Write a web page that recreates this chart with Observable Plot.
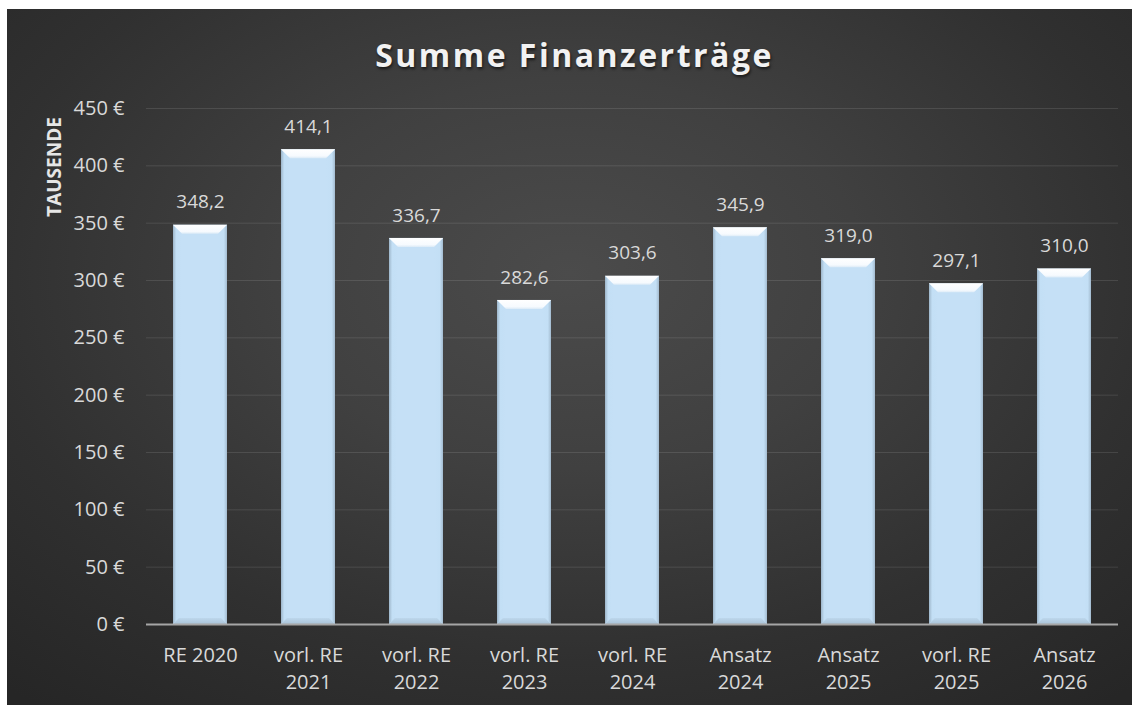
<!DOCTYPE html>
<html><head><meta charset="utf-8">
<script src="https://cdn.jsdelivr.net/npm/d3@7"></script>
<script src="https://cdn.jsdelivr.net/npm/@observablehq/plot@0.6"></script>
<style>
html,body{margin:0;padding:0;background:#fff;}
#panel{position:absolute;left:7px;top:9px;width:1125px;height:696px;overflow:hidden;
  background:radial-gradient(ellipse 75% 80% at 50% 38%, #4b4b4b 0%, #404040 35%, #303030 70%, #262626 100%);
  font-family:"Open Sans",sans-serif;}
#title{height:50px;padding-top:30px;line-height:32px;font-size:32px;font-weight:bold;color:#f2f2f2;
  text-align:center;letter-spacing:2.5px;padding-left:10px;text-shadow:1px 2px 3px rgba(0,0,0,0.6);}
</style></head><body>
<div id="panel"><div id="title">Summe Finanzerträge</div><div id="chart"></div></div>
<script>
const categories = ["RE 2020", "vorl. RE\n2021", "vorl. RE\n2022", "vorl. RE\n2023", "vorl. RE\n2024", "Ansatz\n2024", "Ansatz\n2025", "vorl. RE\n2025", "Ansatz\n2026"];
const values = [348.2, 414.1, 336.7, 282.6, 303.6, 345.9, 319.0, 297.1, 310.0];
const yTicks = [0, 50, 100, 150, 200, 250, 300, 350, 400, 450];
const yLabel = "TAUSENDE";

const data = categories.map((c, i) => ({cat: c, value: values[i]}));
const ns = "http://www.w3.org/2000/svg";

function defs() {
  const svg = document.createElementNS(ns, "defs");
  svg.innerHTML = `
    <linearGradient id="topG" x1="0" y1="0" x2="0" y2="1">
      <stop offset="0" stop-color="#ffffff"/><stop offset="0.75" stop-color="#f6fafe"/><stop offset="1" stop-color="#dcebf7"/>
    </linearGradient>
    <linearGradient id="leftG" x1="0" y1="0" x2="1" y2="0">
      <stop offset="0" stop-color="#9db5c9"/><stop offset="0.35" stop-color="#c3dff5"/><stop offset="1" stop-color="#c5e0f6"/>
    </linearGradient>
    <linearGradient id="rightG" x1="0" y1="0" x2="1" y2="0">
      <stop offset="0" stop-color="#c5e0f6"/><stop offset="0.65" stop-color="#c3dff5"/><stop offset="1" stop-color="#a3bbcf"/>
    </linearGradient>
    <linearGradient id="botG" x1="0" y1="0" x2="0" y2="1">
      <stop offset="0" stop-color="#bdd7ec"/><stop offset="1" stop-color="#aac3d7"/>
    </linearGradient>`;
  return svg;
}

function bevel(index, scales) {
  const g = document.createElementNS(ns, "g");
  const bw = scales.x.bandwidth();
  const b = 9, bb = 6;
  for (const d of data) {
    const x0 = scales.x(d.cat), x1 = x0 + bw, yt = scales.y(d.value), yb = scales.y(0);
    const polys = [
      [[x0, yt], [x0 + b, yt + b], [x0 + bb, yb - bb], [x0, yb], "url(#leftG)"],
      [[x1, yt], [x1 - b, yt + b], [x1 - bb, yb - bb], [x1, yb], "url(#rightG)"],
      [[x0, yb], [x0 + bb, yb - bb], [x1 - bb, yb - bb], [x1, yb], "url(#botG)"],
      [[x0, yt], [x1, yt], [x1 - b, yt + b], [x0 + b, yt + b], "url(#topG)"]
    ];
    for (const p of polys) {
      const el = document.createElementNS(ns, "polygon");
      el.setAttribute("points", p.slice(0, 4).map(q => q.join(",")).join(" "));
      el.setAttribute("fill", p[4]);
      g.appendChild(el);
    }
  }
  return g;
}

const chart = Plot.plot({
  width: 1125,
  height: 616,
  marginLeft: 139,
  marginRight: 14,
  marginTop: 19,
  marginBottom: 81,
  style: {background: "transparent", color: "#d9d9d9", fontFamily: "'Open Sans', sans-serif", fontSize: "19px", overflow: "visible"},
  x: {domain: categories, paddingInner: 0.5, paddingOuter: 0.25, axis: null},
  y: {domain: [0, 450], axis: null},
  marks: [
    defs,
    Plot.gridY(yTicks.filter(t => t > 0), {stroke: "#ffffff", strokeOpacity: 0.11, strokeWidth: 1}),
    Plot.axisY(yTicks, {tickFormat: d => d + " €", tickSize: 0, tickPadding: 22, label: null, fill: "#d9d9d9", fontSize: 20}),
    Plot.axisX({tickSize: 0, tickPadding: 18, label: null, lineHeight: 1.36, fill: "#d9d9d9", fontSize: 20}),
    Plot.barY(data, {x: "cat", y: "value", fill: "#c5e0f6"}),
    bevel,
    Plot.ruleY([0], {stroke: "#a6a6a6", strokeWidth: 2}),
    Plot.text(data, {x: "cat", y: "value", text: d => d.value.toFixed(1).replace(".", ","), dy: -23, fill: "#d9d9d9", fontSize: 19}),
    Plot.text([yLabel], {text: d => d, frameAnchor: "top-left", rotate: -90, dx: -91.5, dy: 58.5, textAnchor: "middle", lineAnchor: "middle", fontWeight: "bold", fontSize: 19, fill: "#e6e6e6"})
  ]
});
document.getElementById("chart").appendChild(chart);
</script>
</body></html>
